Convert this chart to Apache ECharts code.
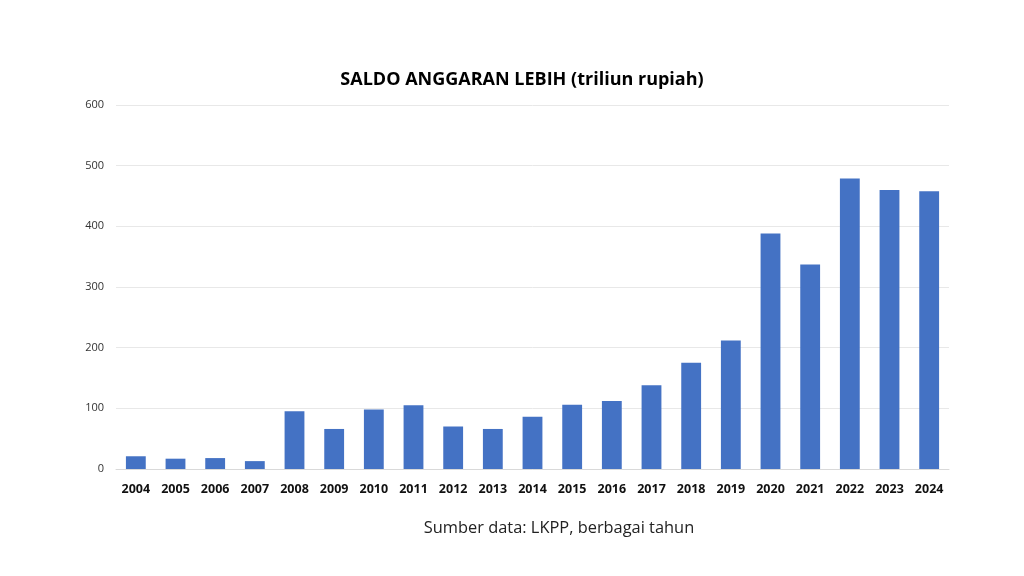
<!DOCTYPE html>
<html><head><meta charset="utf-8">
<script src="https://cdn.jsdelivr.net/npm/echarts@6/dist/echarts.min.js"></script>
<style>html,body{margin:0;padding:0;background:#fff}#c{width:1024px;height:576px}</style>
</head><body><div id="c"></div>
<script>
const years = ['2004','2005','2006','2007','2008','2009','2010','2011','2012','2013','2014','2015','2016','2017','2018','2019','2020','2021','2022','2023','2024'];
const sal = [21,17,18,13,95,66,98,105,70,66,86,106,112,138,175,212,388,337,479,460,458];
const yTicks = [0,100,200,300,400,500,600];

const chart = echarts.init(document.getElementById('c'));
chart.setOption({
  backgroundColor:'#fff',
  animation:false,
  title:[{
    text:'SALDO ANGGARAN LEBIH (triliun rupiah)',
    left:517, top:66, textAlign:'center',
    textStyle:{fontFamily:'Open Sans',fontWeight:'bold',fontSize:18,color:'#000'}
  },{
    text:'Sumber data: LKPP, berbagai tahun',
    left:554, top:515, textAlign:'center',
    textStyle:{fontFamily:'Open Sans',fontWeight:'normal',fontSize:16.4,color:'#222'}
  }],
  grid:{left:116,right:75,top:105,bottom:107,containLabel:false},
  xAxis:{
    type:'category', data:years,
    axisLine:{lineStyle:{color:'#d9d9d9'}},
    axisTick:{show:false},
    axisLabel:{fontFamily:'Open Sans',fontWeight:'bold',fontSize:12.5,color:'#111',margin:14}
  },
  yAxis:{
    type:'value', min:yTicks[0], max:yTicks[yTicks.length-1], interval:100,
    axisLine:{show:false}, axisTick:{show:false},
    splitLine:{lineStyle:{color:'#e8e8e8'}},
    axisLabel:{fontFamily:'Open Sans',fontSize:11,color:'#333',margin:12}
  },
  series:[{
    type:'bar', data:sal, barWidth:'50%',
    itemStyle:{color:'#4472c4'}
  }]
});
</script></body></html>
